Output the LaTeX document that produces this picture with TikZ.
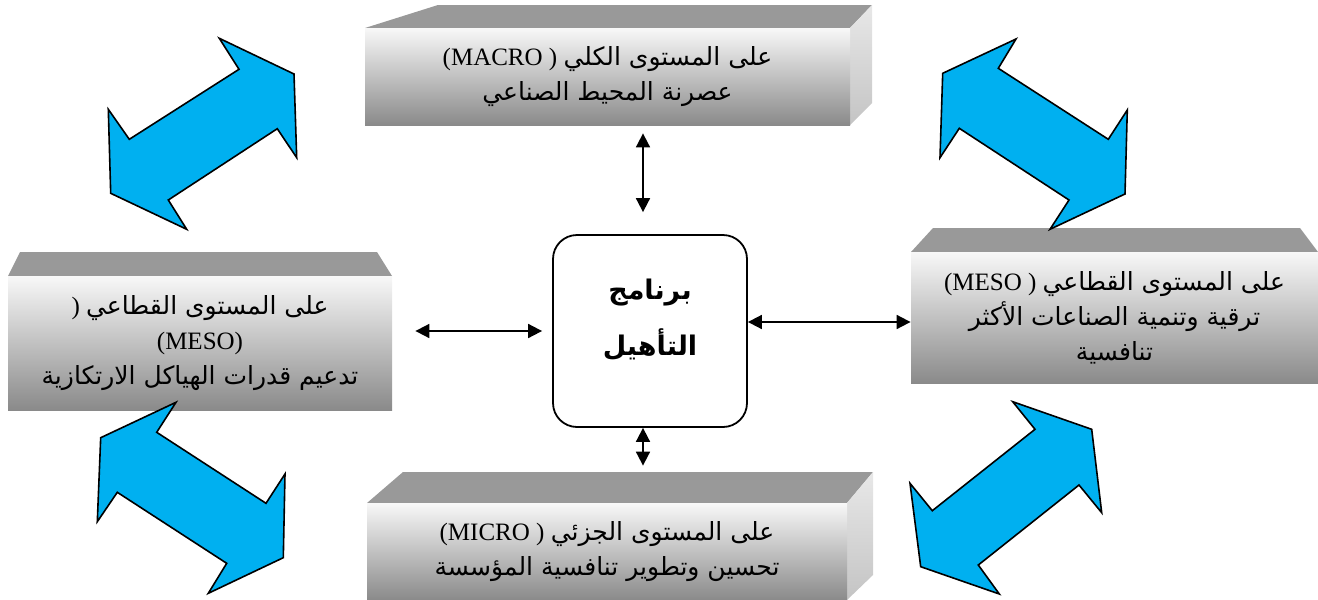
\documentclass[tikz,border=0pt]{standalone}
\usepackage{fontspec}
\setmainfont{Liberation Serif}
\newfontfamily\ar[Script=Arabic]{DejaVu Sans}
\TeXXeTstate=1
\usetikzlibrary{arrows.meta}
\definecolor{bluearr}{HTML}{00B0F0}
\definecolor{boxtop}{HTML}{999999}
\definecolor{frontT}{HTML}{F8F8F8}
\definecolor{frontB}{HTML}{8A8A8A}
\definecolor{sideT}{HTML}{E8E8E8}
\definecolor{sideB}{HTML}{C4C4C4}
\tikzset{
  front/.style={inner sep=0pt, align=center, top color=frontT, bottom color=frontB,
    font=\fontsize{12.5}{17.5}\selectfont},
  conn/.style={{Triangle[length=7pt,width=7pt]}-{Triangle[length=7pt,width=7pt]}, line width=0.9pt},
  bigarrow/.style={fill=bluearr, draw=black, line width=0.8pt, line join=miter}
}
\begin{document}
\begin{tikzpicture}[x=0.5pt, y=-0.5pt]
\useasboundingbox (0,0) rectangle (1318,600);
% box tops and sides
\fill[boxtop] (365,28) -- (850,28) -- (872,5) -- (438,5) -- cycle;
\shade[top color=sideT, bottom color=sideB] (850,28) -- (872,5) -- (872,103) -- (850,125) -- cycle;
\fill[boxtop] (8,276) -- (392,276) -- (377,252) -- (20,252) -- cycle;
\fill[boxtop] (911,252) -- (1318,252) -- (1300,228) -- (933,228) -- cycle;
\fill[boxtop] (367,503) -- (847,503) -- (873,472) -- (403,472) -- cycle;
\shade[top color=sideT, bottom color=sideB] (847,503) -- (873,472) -- (873,575) -- (847,600) -- cycle;

% fronts
\node[front, minimum width=242.5pt, minimum height=48.5pt] (macro) at (607.5,76.5)
  {(MACRO ) {\ar\beginR على المستوى الكلي\endR}\\ {\ar\beginR عصرنة المحيط الصناعي\endR}};
\node[front, minimum width=192pt, minimum height=67pt] (mesoL) at (200,343)
  {) {\ar\beginR على المستوى القطاعي\endR}\\ (MESO)\\ {\ar\beginR تدعيم قدرات الهياكل الارتكازية\endR}};
\node[front, minimum width=203.5pt, minimum height=65.5pt] (mesoR) at (1114.5,317.5)
  {(MESO ) {\ar\beginR على المستوى القطاعي\endR}\\ {\ar\beginR ترقية وتنمية الصناعات الأكثر\endR}\\ {\ar\beginR تنافسية\endR}};
\node[front, minimum width=240pt, minimum height=48.5pt] (micro) at (607,551.5)
  {(MICRO ) {\ar\beginR على المستوى الجزئي\endR}\\ {\ar\beginR تحسين وتطوير تنافسية المؤسسة\endR}};

% blue double arrows
\draw[bigarrow] (219.3,38.3) -- (294,74) -- (296.7,157.7) -- (277.3,128.7) -- (168.3,200)
  -- (186.7,229.3) -- (110.7,193.3) -- (108.3,109.3) -- (129.3,139.3) -- (239,69.3) -- cycle;
\draw[bigarrow] (176,402.3) -- (156.7,432.3) -- (266,503.3) -- (285,474) -- (283.3,557.7)
  -- (208.3,593.3) -- (226.7,563.3) -- (117.3,492.3) -- (97.3,521.7) -- (100.7,437.7) -- cycle;
\draw[bigarrow] (1016,39) -- (998.3,68.3) -- (1108.3,139.3) -- (1127.3,110) -- (1125,194)
  -- (1050,229.3) -- (1069,200) -- (959.3,128.3) -- (940,157.7) -- (942.7,73.3) -- cycle;
\draw[bigarrow] (1012.7,401.7) -- (1091.7,429.3) -- (1101.7,512.7) -- (1079,485) -- (978.3,565)
  -- (999.3,594) -- (920.7,566.7) -- (910,483.3) -- (932.3,510.7) -- (1035,429.3) -- cycle;

% program box
\node[draw, line width=0.9pt, rounded corners=12pt, minimum width=97pt, minimum height=96pt] (prog) at (650,331) {};
\node[align=center, font=\ar\bfseries\fontsize{13.5}{28}\selectfont] (progtxt) at ([yshift=5.5pt]prog.center)
  {\beginR برنامج\endR\\ \beginR التأهيل\endR};

% connectors
\draw[conn, shorten <=11pt, shorten >=4pt] ([xshift=-3.5pt]prog.north) -- ([xshift=-3.5pt]prog.north |- macro.south);
\draw[conn, shorten >=18.5pt] ([xshift=-3.5pt]prog.south) -- ([xshift=-3.5pt]prog.south |- micro.north);
\draw[conn, shorten <=5pt, shorten >=11.5pt] (prog.west) -- (prog.west -| mesoL.east);
\draw[conn] ([yshift=4.5pt]prog.east) -- ([yshift=4.5pt]prog.east -| mesoR.west);
\end{tikzpicture}
\end{document}
